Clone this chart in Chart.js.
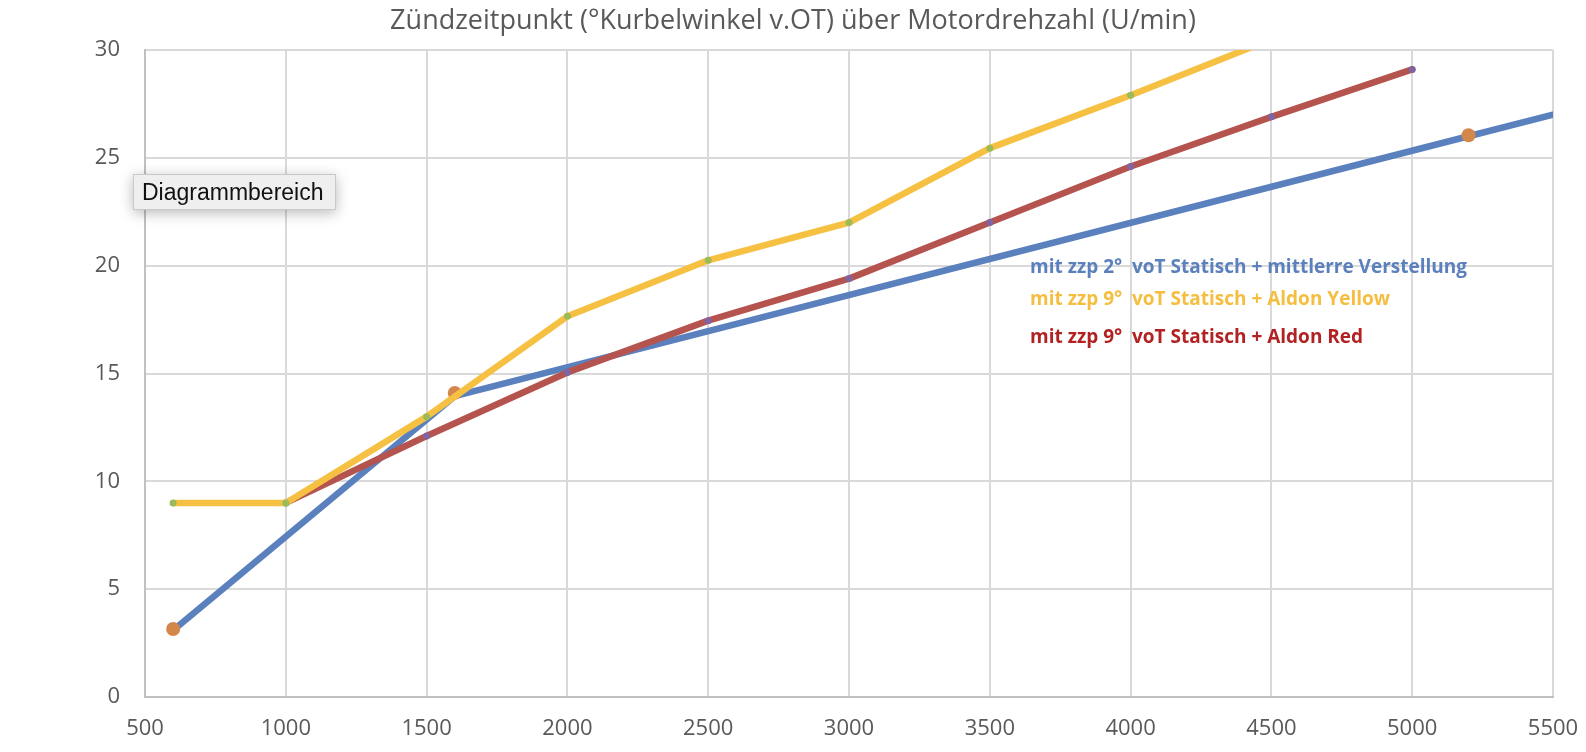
<!DOCTYPE html>
<html>
<head>
<meta charset="utf-8">
<script src="https://cdn.jsdelivr.net/npm/chart.js@4.4.1/dist/chart.umd.min.js"></script>
<style>
html, body { margin: 0; padding: 0; background: #fff; }
</style>
</head>
<body>
<canvas id="myChart" width="1586" height="752"></canvas>
<script>
var ctx = document.getElementById('myChart').getContext('2d');

// Achsen
var rpmTicks = [500, 1000, 1500, 2000, 2500, 3000, 3500, 4000, 4500, 5000, 5500];
var degTicks = [0, 5, 10, 15, 20, 25, 30];

// zzp 2° + mittlere Verstellung (blau)
var blueRpm = [600, 1600, 5200, 5500];
var blueDeg = [3.1, 13.95, 26, 27];

// Einzelpunkte (orange)
var markRpm = [600, 1600, 5200];
var markDeg = [3.15, 14.1, 26.05];

// zzp 9° + Aldon Yellow
var yellowRpm = [600, 1000, 1500, 2000, 2500, 3000, 3500, 4000, 4500];
var yellowDeg = [9, 9, 13, 17.65, 20.25, 22, 25.45, 27.9, 30.5];

// zzp 9° + Aldon Red
var redRpm = [1000, 1500, 2000, 2500, 3000, 3500, 4000, 4500, 5000];
var redDeg = [9, 12.1, 15.05, 17.45, 19.4, 22, 24.6, 26.9, 29.1];

var titleText = 'Zündzeitpunkt (°Kurbelwinkel v.OT) über Motordrehzahl (U/min)';
var legendTexts = [
    'mit zzp 2°  voT Statisch + mittlerre Verstellung',
    'mit zzp 9°  voT Statisch + Aldon Yellow',
    'mit zzp 9°  voT Statisch + Aldon Red'
];
var legendColors = ['#5b80bd', '#f5be40', '#b22222'];
var tooltipText = 'Diagrammbereich';

function pts(xs, ys) {
    var out = [];
    for (var i = 0; i < xs.length; i++) out.push({ x: xs[i], y: ys[i] });
    return out;
}

// Titel, Beschriftung im Diagramm + Tooltip-Kasten
var overlay = {
    id: 'overlay',
    afterDraw: function (chart) {
        var c = chart.ctx;
        c.save();
        // Titel mittig über die ganze Breite
        c.font = '27px "Open Sans"';
        c.fillStyle = '#595959';
        c.textAlign = 'center';
        c.textBaseline = 'middle';
        c.fillText(titleText, chart.width / 2, 21);

        c.textAlign = 'left';
        c.textBaseline = 'alphabetic';
        c.font = 'bold 19px "Open Sans"';
        var rows = [273, 305, 343];
        for (var i = 0; i < legendTexts.length; i++) {
            c.fillStyle = legendColors[i];
            c.fillText(legendTexts[i], 1030, rows[i]);
        }
        // Tooltip
        c.shadowColor = 'rgba(0,0,0,0.28)';
        c.shadowBlur = 14;
        c.shadowOffsetY = 3;
        c.fillStyle = '#efefef';
        c.fillRect(133, 174, 203, 36);
        c.shadowColor = 'transparent';
        c.strokeStyle = '#c9c9c9';
        c.lineWidth = 1;
        c.strokeRect(133.5, 174.5, 202, 35);
        c.fillStyle = '#111';
        c.font = '23px "Liberation Sans"';
        c.fillText(tooltipText, 142, 200);
        c.restore();
    }
};

var lineBase = {
    showLine: true,
    fill: false,
    borderCapStyle: 'round',
    borderJoinStyle: 'round',
    tension: 0
};

var config = {
    type: 'scatter',
    data: {
        datasets: [
            Object.assign({}, lineBase, {
                label: 'Aldon Yellow',
                data: pts(yellowRpm, yellowDeg),
                borderColor: '#f6c143',
                borderWidth: 6.5,
                pointRadius: 3.5,
                pointBackgroundColor: '#9bbb59',
                pointBorderWidth: 0
            }),
            Object.assign({}, lineBase, {
                label: 'Aldon Red',
                data: pts(redRpm, redDeg),
                borderColor: '#b5544e',
                borderWidth: 6.5,
                pointRadius: 3.5,
                pointBackgroundColor: '#8064a2',
                pointBorderWidth: 0
            }),
            {
                label: 'Punkte',
                data: pts(markRpm, markDeg),
                showLine: false,
                pointRadius: 7,
                pointBackgroundColor: '#d4874a',
                pointBorderWidth: 0
            },
            Object.assign({}, lineBase, {
                label: 'mittlere Verstellung',
                data: pts(blueRpm, blueDeg),
                borderColor: '#5a80be',
                borderWidth: 6.5,
                pointRadius: 0
            })
        ]
    },
    options: {
        responsive: false,
        animation: false,
        devicePixelRatio: 1,
        layout: { padding: { left: 0, right: 33, top: 50, bottom: 0 } },
        plugins: {
            legend: { display: false },
            tooltip: { enabled: false },
            title: { display: false }
        },
        scales: {
            x: {
                type: 'linear',
                min: 500,
                max: 5500,
                afterBuildTicks: function (s) { s.ticks = rpmTicks.map(function (v) { return { value: v }; }); },
                afterFit: function (s) { s.height = 55; s.paddingLeft = 0; s.paddingRight = 0; },
                grid: { color: '#d9d9d9', lineWidth: 2, drawTicks: false },
                border: { display: true, color: '#c0c0c0', width: 2 },
                ticks: {
                    color: '#595959', padding: 19,
                    font: { family: '"Open Sans"', size: 22 },
                    callback: function (v) { return String(v); }
                }
            },
            y: {
                min: 0,
                max: 30,
                afterBuildTicks: function (s) { s.ticks = degTicks.map(function (v) { return { value: v }; }); },
                afterFit: function (s) { s.width = 145; s.paddingTop = 0; s.paddingBottom = 0; },
                grid: { color: '#d9d9d9', lineWidth: 2, drawTicks: false },
                border: { display: true, color: '#c0c0c0', width: 2 },
                ticks: {
                    color: '#595959', padding: 25,
                    font: { family: '"Open Sans"', size: 22 },
                    callback: function (v) { return String(v); }
                }
            }
        }
    },
    plugins: [overlay]
};

var myChart = new Chart(ctx, config);
</script>
</body>
</html>
